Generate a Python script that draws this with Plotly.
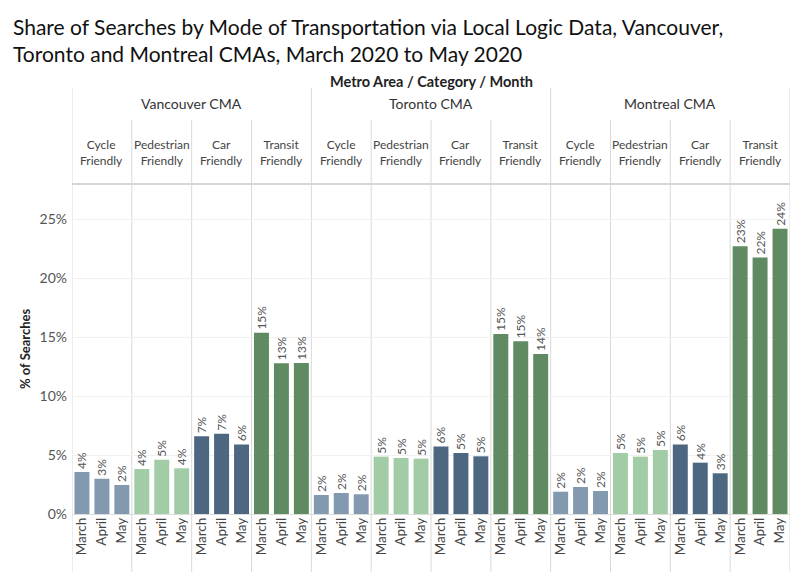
import plotly.graph_objects as go

# ---------------- data ----------------
metros = ["Vancouver CMA", "Toronto CMA", "Montreal CMA"]
categories = ["Cycle Friendly", "Pedestrian Friendly", "Car Friendly", "Transit Friendly"]
months = ["March", "April", "May"]

# share of searches (%), order: Vancouver (Mar, Apr, May), Toronto (...), Montreal (...)
cycle_friendly = [3.56, 2.99, 2.46, 1.61, 1.78, 1.67, 1.89, 2.29, 1.95]
pedestrian_friendly = [3.81, 4.60, 3.87, 4.86, 4.75, 4.69, 5.17, 4.86, 5.42]
car_friendly = [6.58, 6.81, 5.90, 5.73, 5.17, 4.89, 5.90, 4.35, 3.45]
transit_friendly = [15.37, 12.77, 12.80, 15.25, 14.63, 13.56, 22.69, 21.73, 24.18]

series = [cycle_friendly, pedestrian_friendly, car_friendly, transit_friendly]
colors = ["#8399af", "#a1cca5", "#4e6781", "#5f8a62"]

y_ticks = [0, 5, 10, 15, 20, 25]
y_tick_labels = ["0%", "5%", "10%", "15%", "20%", "25%"]

# ---------------- geometry (pixels) ----------------
W, H = 800, 581
L, R = 72, 790
T, B = 184, 514
FONT = "Lato"


def py(pix):
    return (B - pix) / (B - T)


def px(pix):
    return (pix - L) / (R - L)


n_m, n_c, n_mo = len(metros), len(categories), len(months)
slots = n_m * n_c * n_mo

fig = go.Figure()
for ci, (cat, vals) in enumerate(zip(categories, series)):
    xs, ys, txt = [], [], []
    for mi in range(n_m):
        for k in range(n_mo):
            v = vals[mi * n_mo + k]
            xs.append(mi * n_c * n_mo + ci * n_mo + k)
            ys.append(v)
            txt.append(f"{round(v)}%")
    fig.add_trace(go.Bar(
        x=xs, y=ys, text=txt, name=cat,
        marker=dict(color=colors[ci], line=dict(width=0)),
        textposition="outside", textangle=-90, constraintext="none",
        textfont=dict(family=FONT, size=12, color="#555555"),
        cliponaxis=False, showlegend=False,
    ))

tick_vals = list(range(slots))
tick_text = [months[i % n_mo] for i in range(slots)]

shapes = []
n_cols = n_m * n_c
for k in range(n_cols + 1):
    xpos = k * n_mo - 0.5
    top = 88 if k % n_c == 0 else 120
    shapes.append(dict(type="line", xref="x", yref="paper", x0=xpos, x1=xpos,
                       y0=py(572), y1=py(top), line=dict(color="#d9d9d9", width=1),
                       layer="below"))
shapes.append(dict(type="line", xref="x", yref="paper", x0=-0.5, x1=slots - 0.5,
                   y0=py(184), y1=py(184), line=dict(color="#d6d6d6", width=2)))

annotations = []
for mi, m in enumerate(metros):
    annotations.append(dict(x=mi * n_c * n_mo + (n_c * n_mo - 1) / 2, y=py(103), xref="x", yref="paper",
                            text=m, showarrow=False, xanchor="center", yanchor="middle",
                            font=dict(family=FONT, size=14, color="#333333")))
    for ci, c in enumerate(categories):
        annotations.append(dict(x=mi * n_c * n_mo + ci * n_mo + 1, y=py(152), xref="x", yref="paper",
                                text=c.replace(" ", "<br>"), showarrow=False,
                                xanchor="center", yanchor="middle",
                                font=dict(family=FONT, size=12, color="#444444")))
annotations.append(dict(x=0.5, y=py(81), xref="paper", yref="paper",
                        text="<b>Metro Area / Category / Month</b>", showarrow=False,
                        xanchor="center", yanchor="middle",
                        font=dict(family=FONT, size=14.5, color="#222222")))
annotations.append(dict(x=px(25), y=0.5, xref="paper", yref="paper",
                        text="<b>% of Searches</b>", showarrow=False, textangle=-90,
                        xanchor="center", yanchor="middle",
                        font=dict(family=FONT, size=13, color="#222222")))
annotations.append(dict(x=px(11), y=py(40), xref="paper", yref="paper",
                        text="Share of Searches by Mode of Transportation via Local Logic Data, Vancouver,<br>"
                             "Toronto and Montreal CMAs, March 2020 to May 2020",
                        showarrow=False, xanchor="left", yanchor="middle", align="left",
                        font=dict(family=FONT, size=21, color="#111111")))

fig.update_layout(
    width=W, height=H,
    margin=dict(l=L, r=W - R, t=T, b=H - B, pad=0),
    paper_bgcolor="white", plot_bgcolor="white",
    bargap=0.25,
    xaxis=dict(range=[-0.5, slots - 0.5], tickmode="array", tickvals=tick_vals, ticktext=tick_text,
               tickangle=-90, showgrid=False, zeroline=False, showline=False, ticks="",
               tickfont=dict(family=FONT, size=13.5, color="#444444")),
    yaxis=dict(range=[0, (B - T) / 59 * 5], tickmode="array", tickvals=y_ticks, ticktext=y_tick_labels,
               showgrid=True, gridcolor="#f0f0f0", gridwidth=1,
               zeroline=True, zerolinecolor="#dcdcdc", zerolinewidth=1,
               showline=False, ticks="", ticklabelstandoff=4,
               tickfont=dict(family=FONT, size=14, color="#555555")),
    shapes=shapes, annotations=annotations,
)

fig.write_html("out.html")
